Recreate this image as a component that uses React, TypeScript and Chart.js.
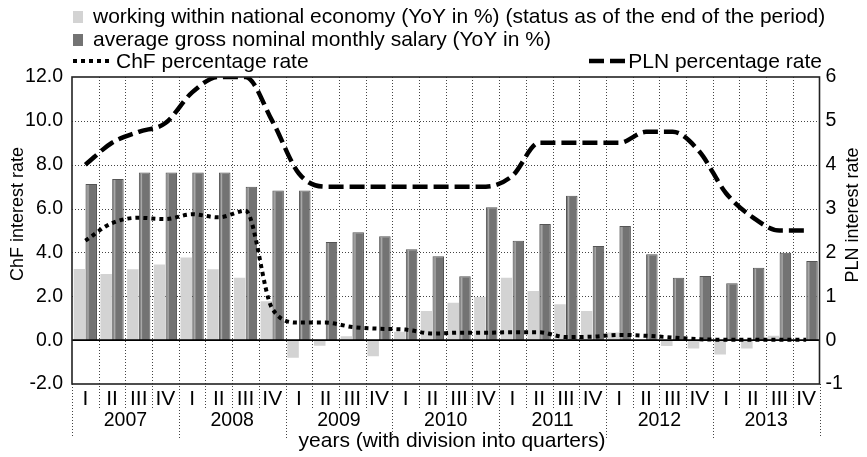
import React, { useEffect, useRef } from "react";
import { Chart, registerables } from "chart.js";

Chart.register(...registerables);

const FONT = '"Liberation Sans", Arial, Helvetica, sans-serif';

const quarterLabels = [
  "I", "II", "III", "IV", "I", "II", "III", "IV", "I", "II", "III", "IV",
  "I", "II", "III", "IV", "I", "II", "III", "IV", "I", "II", "III", "IV",
  "I", "II", "III", "IV",
];
const years = ["2007", "2008", "2009", "2010", "2011", "2012", "2013"];

// working within national economy (YoY in %)
const employmentYoY = [
  3.24, 3.02, 3.23, 3.45, 3.77, 3.23, 2.85, 1.77,
  -0.8, -0.26, 0.18, -0.73, 0.38, 1.33, 1.71, 1.97,
  2.85, 2.24, 1.64, 1.33, 0.35, 0.02, -0.27, -0.38,
  -0.65, -0.38, 0.2, 0.02,
];
// average gross nominal monthly salary (YoY in %)
const salaryYoY = [
  7.12, 7.35, 7.65, 7.65, 7.65, 7.65, 7.0, 6.82,
  6.82, 4.47, 4.92, 4.74, 4.15, 3.83, 2.91, 6.06,
  4.53, 5.3, 6.59, 4.29, 5.21, 3.92, 2.85, 2.92,
  2.59, 3.3, 3.98, 3.61,
];
// ChF percentage rate
const chfRate = [
  2.27, 2.67, 2.79, 2.76, 2.87, 2.8, 2.95, 0.72,
  0.4, 0.4, 0.3, 0.26, 0.24, 0.15, 0.17, 0.17,
  0.18, 0.18, 0.07, 0.08, 0.12, 0.1, 0.06, 0.02,
  0.01, 0.01, 0.01, 0.01,
];
// PLN percentage rate
const plnRate = [
  4.0, 4.5, 4.75, 4.95, 5.65, 6.0, 6.0, 5.0,
  3.8, 3.5, 3.5, 3.5, 3.5, 3.5, 3.5, 3.5,
  3.75, 4.5, 4.5, 4.5, 4.5, 4.75, 4.75, 4.3,
  3.35, 2.8, 2.5, 2.5,
];

const legendEmployment = "working within national economy (YoY in %) (status as of the end of the period)";
const legendSalary = "average gross nominal monthly salary (YoY in %)";
const legendChf = "ChF percentage rate";
const legendPln = "PLN percentage rate";
const leftTitle = "ChF interest rate";
const rightTitle = "PLN interest rate";
const xTitle = "years (with division into quarters)";

const LIGHT = "#d3d3d3";
const DARK = "#737373";

const customPlugin = {
  id: "custom",
  beforeDatasetsDraw(chart: any) {
    const { ctx, chartArea, scales } = chart;
    const { left, right, top, bottom } = chartArea;
    const x = scales.x;
    const y = scales.y;
    ctx.save();
    ctx.strokeStyle = "#444";
    ctx.lineWidth = 1;
    ctx.setLineDash([1, 2]);
    y.ticks.forEach((t: any) => {
      if (t.value <= -2 || t.value >= 12 || t.value === 0) return;
      const py = Math.round(y.getPixelForValue(t.value)) + 0.5;
      ctx.beginPath();
      ctx.moveTo(left, py);
      ctx.lineTo(right, py);
      ctx.stroke();
    });
    const n = quarterLabels.length;
    for (let i = 0; i <= n; i++) {
      let px: number;
      if (i === 0) px = left;
      else if (i === n) px = right;
      else px = (x.getPixelForValue(i - 1) + x.getPixelForValue(i)) / 2;
      px = Math.round(px) + 0.5;
      const isYear = i % 4 === 0;
      const yStart = i === 0 || i === n ? bottom : top;
      const yEnd = isYear ? 438 : 408;
      ctx.beginPath();
      ctx.moveTo(px, yStart);
      ctx.lineTo(px, yEnd);
      ctx.stroke();
    }
    ctx.restore();
  },
  afterDatasetDraw(chart: any, args: any) {
    const { ctx, chartArea, scales } = chart;
    if (args.index === 1) {
      const meta = chart.getDatasetMeta(1);
      ctx.save();
      ctx.strokeStyle = "#a8a8a8";
      ctx.lineWidth = 1.5;
      meta.data.forEach((el: any) => {
        const p = el.getProps(["x", "y", "base", "width"], true);
        const sx = p.x - p.width / 2 + 2.5;
        ctx.beginPath();
        ctx.moveTo(sx, Math.min(p.y, p.base) + 1);
        ctx.lineTo(sx, Math.max(p.y, p.base));
        ctx.stroke();
      });
      ctx.restore();
    }
    if (args.index === 0) {
      const zy = scales.y.getPixelForValue(0);
      ctx.save();
      ctx.strokeStyle = "#000";
      ctx.lineWidth = 1.6;
      ctx.beginPath();
      ctx.moveTo(chartArea.left, zy);
      ctx.lineTo(chartArea.right, zy);
      ctx.stroke();
      ctx.restore();
    }
  },
  afterDraw(chart: any) {
    const { ctx, chartArea, scales } = chart;
    const { left, right, top, bottom } = chartArea;
    const x = scales.x;
    ctx.save();
    ctx.strokeStyle = "#222";
    ctx.lineWidth = 1.6;
    ctx.strokeRect(left, top, right - left, bottom - top);

    ctx.fillStyle = "#000";
    ctx.font = `19.5px ${FONT}`;
    ctx.textAlign = "center";
    ctx.textBaseline = "middle";
    years.forEach((yr, k) => {
      const cx = (x.getPixelForValue(4 * k) + x.getPixelForValue(4 * k + 3)) / 2;
      ctx.fillText(yr, cx, 421);
    });

    ctx.font = `21px ${FONT}`;
    ctx.fillText(xTitle, 452, 441);

    ctx.font = `18px ${FONT}`;
    ctx.save();
    ctx.translate(18, 214);
    ctx.rotate(-Math.PI / 2);
    ctx.fillText(leftTitle, 0, 0);
    ctx.restore();
    ctx.save();
    ctx.translate(853, 215);
    ctx.rotate(-Math.PI / 2);
    ctx.fillText(rightTitle, 0, 0);
    ctx.restore();

    ctx.font = `21px ${FONT}`;
    ctx.textAlign = "left";
    ctx.fillStyle = LIGHT;
    ctx.fillRect(73, 11, 10, 12);
    ctx.fillStyle = DARK;
    ctx.fillRect(73, 34, 10, 12);
    ctx.fillStyle = "#000";
    ctx.fillText(legendEmployment, 93, 17);
    ctx.fillText(legendSalary, 93, 40);

    ctx.strokeStyle = "#000";
    ctx.lineWidth = 4;
    ctx.setLineDash([4, 4]);
    ctx.beginPath();
    ctx.moveTo(73, 61);
    ctx.lineTo(109, 61);
    ctx.stroke();
    ctx.fillText(legendChf, 116, 62);

    ctx.lineWidth = 4.5;
    ctx.setLineDash([15, 6]);
    ctx.beginPath();
    ctx.moveTo(589, 61);
    ctx.lineTo(625, 61);
    ctx.stroke();
    ctx.textAlign = "right";
    ctx.fillText(legendPln, 822, 62);
    ctx.restore();
  },
};

export default function App() {
  const ref = useRef<HTMLCanvasElement | null>(null);

  useEffect(() => {
    document.body.style.margin = "0";
    const canvas = ref.current;
    if (!canvas) return;
    const chart = new Chart(canvas, {
      type: "bar",
      data: {
        labels: quarterLabels,
        datasets: [
          {
            type: "bar",
            label: legendEmployment,
            data: employmentYoY,
            backgroundColor: LIGHT,
            borderWidth: 0,
            yAxisID: "y",
            order: 2,
            categoryPercentage: 0.88,
            barPercentage: 0.98,
          },
          {
            type: "bar",
            label: legendSalary,
            data: salaryYoY,
            backgroundColor: DARK,
            borderColor: "#555",
            borderWidth: 1,
            yAxisID: "y",
            order: 3,
            categoryPercentage: 0.88,
            barPercentage: 0.98,
          },
          {
            type: "line",
            label: legendChf,
            data: chfRate,
            borderColor: "#000",
            borderWidth: 4,
            borderDash: [4, 4],
            pointRadius: 0,
            fill: false,
            cubicInterpolationMode: "monotone",
            yAxisID: "y1",
            order: 1,
          },
          {
            type: "line",
            label: legendPln,
            data: plnRate,
            borderColor: "#000",
            borderWidth: 4.5,
            borderDash: [15, 6],
            pointRadius: 0,
            fill: false,
            cubicInterpolationMode: "monotone",
            yAxisID: "y1",
            order: 0,
          },
        ] as any,
      },
      options: {
        animation: false,
        responsive: false,
        devicePixelRatio: 1,
        layout: { padding: { top: 77, left: 0, right: 0, bottom: 0 } },
        plugins: {
          legend: { display: false },
          tooltip: { enabled: false },
        },
        scales: {
          x: {
            type: "category",
            offset: true,
            grid: { display: false, drawTicks: false },
            border: { display: false },
            ticks: {
              font: { family: FONT, size: 21 },
              color: "#000",
              padding: 3,
              maxRotation: 0,
              autoSkip: false,
            },
            afterFit: (s: any) => {
              s.height = 73;
            },
          },
          y: {
            position: "left",
            min: -2,
            max: 12,
            ticks: {
              stepSize: 2,
              callback: (v: any) => Number(v).toFixed(1),
              font: { family: FONT, size: 19.5 },
              color: "#000",
              padding: 9,
            },
            grid: { display: false, drawTicks: false },
            border: { display: false },
            afterFit: (s: any) => {
              s.width = 72;
            },
          },
          y1: {
            position: "right",
            min: -1,
            max: 6,
            ticks: {
              stepSize: 1,
              font: { family: FONT, size: 19.5 },
              color: "#000",
              padding: 6,
            },
            grid: { display: false, drawTicks: false },
            border: { display: false },
            afterFit: (s: any) => {
              s.width = 47.5;
            },
          },
        },
      } as any,
      plugins: [customPlugin],
    });
    return () => chart.destroy();
  }, []);

  return (
    <div style={{ width: 867, height: 457 }}>
      <canvas ref={ref} width={867} height={457} style={{ display: "block" }} />
    </div>
  );
}
